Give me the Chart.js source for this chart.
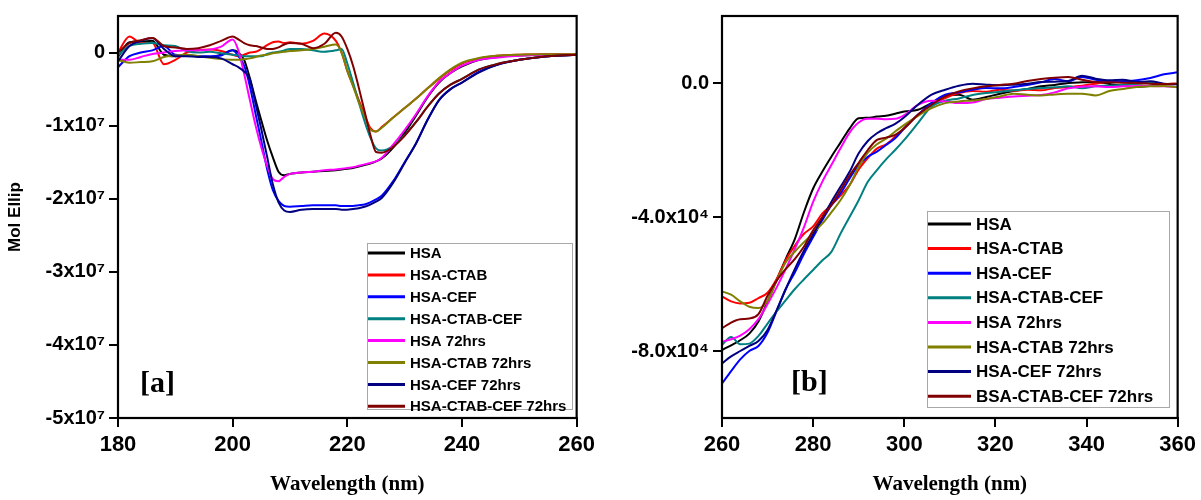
<!DOCTYPE html>
<html>
<head>
<meta charset="utf-8">
<script src="https://cdn.jsdelivr.net/npm/chart.js@4.4.1/dist/chart.umd.min.js"></script>
<style>
  html, body { margin:0; padding:0; background:#fff; }
  #wrap { position:relative; width:1201px; height:500px; }
  canvas { position:absolute; top:0; }
  #cd-a { left:0; }
  #cd-b { left:600px; }
</style>
</head>
<body>
<div id="wrap">
  <canvas id="cd-a" width="600" height="500"></canvas>
  <canvas id="cd-b" width="601" height="500"></canvas>
</div>
<script>
// Legend names and colours
const NAMES_A = ['HSA','HSA-CTAB','HSA-CEF','HSA-CTAB-CEF','HSA 72hrs','HSA-CTAB 72hrs','HSA-CEF 72hrs','HSA-CTAB-CEF 72hrs'];
const NAMES_B = ['HSA','HSA-CTAB','HSA-CEF','HSA-CTAB-CEF','HSA 72hrs','HSA-CTAB 72hrs','HSA-CEF 72hrs','BSA-CTAB-CEF 72hrs'];
const COLORS  = ['#000000','#ff0000','#0000ff','#008080','#ff00ff','#808000','#000080','#800000'];

// [a] far-UV, wavelength (nm) and Mol Ellip in units of 1e6
const WL_A = [180,182,184,186,188,190,192,194,196,198,200,201,202,203,204,205,206,207,208,209,
              210,212,214,216,218,219,220,221,222,223,224,225,226,228,230,232,234,236,238,240,
              243,246,250,255,260];
const HSA_A = [-0.6,1.4,1.5,1.6,-0.3,-0.5,-0.4,-0.5,-0.6,-0.3, 0.3,0.0,-1.0,-3.5,-6.5,-9.3,-12.0,-14.3,-16.3,-16.8,
  -16.6,-16.4,-16.3,-16.2,-16.1,-16.0,-15.9,-15.8,-15.6,-15.4, -15.2,-14.9,-14.5,-13.0,-11.0,-8.6,-6.1,-4.1,-2.8,-1.9,
  -1.0,-0.6,-0.4,-0.3,-0.3];
const HSA_CTAB_A = [0.0,2.2,1.3,1.3,-1.6,-1.0,0.0,0.3,0.4,0.2, -0.3,-0.5,-0.3,0.0,0.1,0.5,1.0,1.4,1.5,1.3,
  1.4,1.2,1.6,2.6,1.6,0.0,-2.5,-4.5,-6.5,-8.5, -10.3,-10.8,-10.2,-8.9,-7.6,-6.3,-4.9,-3.6,-2.4,-1.5,
  -0.8,-0.45,-0.3,-0.25,-0.25];
const HSA_CEF_A = [-2.0,-0.5,0.0,0.3,0.9,-0.3,-0.4,-0.5,-0.5,-0.4, 0.3,-0.5,-1.8,-4.6,-8.4,-12.1,-15.9,-18.8,-20.3,-21.0,
  -21.1,-21.0,-20.9,-20.9,-20.9,-21.0,-21.0,-21.0,-20.9,-20.8, -20.5,-20.1,-19.6,-17.6,-15.0,-12.4,-9.2,-6.5,-5.0,-4.1,
  -2.6,-1.7,-1.0,-0.5,-0.3];
const HSA_CTAB_CEF_A = [-0.4,0.9,1.2,1.3,1.0,0.9,0.2,0.0,0.1,-0.1, -0.3,-0.4,-0.5,-0.5,-0.5,-0.5,-0.2,0.0,0.1,0.3,
  0.5,0.5,0.3,0.1,0.3,0.5,-1.5,-4.1,-6.8,-9.4, -11.6,-13.1,-13.4,-12.8,-11.3,-9.5,-7.4,-5.6,-4.4,-3.6,
  -2.3,-1.6,-1.0,-0.5,-0.3];
const HSA72_A = [-1.0,-1.0,-0.6,-0.2,0.0,0.2,0.3,0.3,0.4,0.8, 1.8,0.3,-2.9,-6.5,-10.0,-13.0,-15.5,-17.3,-17.6,-17.0,
  -16.6,-16.4,-16.3,-16.1,-16.0,-15.9,-15.8,-15.7,-15.5,-15.3, -15.1,-14.9,-14.4,-12.6,-10.6,-8.4,-6.0,-4.0,-2.8,-1.8,
  -1.0,-0.7,-0.45,-0.3,-0.3];
const HSA_CTAB72_A = [-1.0,-1.4,-1.3,-1.2,-0.6,-0.4,-0.3,-0.5,-0.7,-0.9, -1.0,-1.0,-0.9,-0.8,-0.6,-0.4,-0.3,-0.1,0.0,0.1,
  0.2,0.3,0.5,0.8,1.1,0.0,-2.5,-4.6,-6.8,-8.7, -10.5,-10.8,-10.3,-8.9,-7.6,-6.3,-4.9,-3.5,-2.3,-1.4,
  -0.75,-0.45,-0.3,-0.25,-0.25];
const HSA_CEF72_A = [-1.2,0.9,1.6,2.0,0.5,-0.5,-0.5,-0.6,-0.6,-0.8, -1.6,-2.0,-2.6,-3.7,-7.0,-10.5,-14.2,-18.0,-20.5,-21.6,
  -21.8,-21.5,-21.4,-21.4,-21.4,-21.5,-21.5,-21.4,-21.3,-21.1, -20.8,-20.4,-19.9,-17.8,-15.1,-12.4,-9.2,-6.5,-5.0,-4.1,
  -2.7,-1.7,-1.0,-0.5,-0.3];
const HSA_CTAB_CEF72_A = [0.0,1.3,1.7,2.0,0.9,0.7,0.5,0.6,1.0,1.6, 2.2,1.8,1.3,1.0,0.9,0.7,0.5,0.5,0.7,1.1,
  1.3,1.2,0.6,1.2,2.7,2.2,0.5,-1.8,-4.8,-8.0, -11.2,-13.6,-13.7,-12.9,-11.4,-9.5,-7.4,-5.6,-4.4,-3.6,
  -2.3,-1.6,-1.0,-0.5,-0.3];

// [b] near-UV, wavelength (nm) and Mol Ellip in units of 1e3
const WL_B = [260,262,264,266,268,270,272,274,276,278,280,282,284,286,288,290,292,294,296,298,
              300,303,306,309,312,315,318,321,324,327,330,333,336,339,342,345,348,351,354,357,360];
const HSA_B = [-79.7,-78.3,-76.8,-74.8,-71.2,-65.2,-58.8,-52.5,-46.5,-38.5, -31.5,-26.5,-22.0,-17.8,-13.6,-10.5,-10.4,-10.0,-9.8,-9.2,
  -8.5,-8.0,-6.0,-3.8,-3.5,-5.0,-4.2,-3.2,-2.4,-1.8, -1.0,-0.6,0.0,0.2,0.3,-0.3,-0.8,-1.2,-0.8,-0.4, -0.3];
const HSA_CTAB_B = [-63.7,-65.2,-65.8,-65.6,-64.2,-62.6,-58.5,-52.8,-48.5,-45.0, -42.8,-39.0,-36.4,-33.6,-30.5,-25.8,-22.4,-19.6,-18.3,-16.0,
  -13.5,-9.5,-6.5,-4.5,-3.0,-2.4,-2.6,-2.0,-2.3,-2.0, -2.2,-1.5,-1.2,-0.8,-0.2,0.3,0.2,-0.2,0.0,-0.3, -0.2];
const HSA_CEF_B = [-89.7,-86.0,-82.5,-80.0,-78.5,-74.5,-68.0,-61.5,-56.5,-51.0, -46.0,-41.0,-36.5,-33.0,-28.5,-24.5,-22.0,-20.5,-18.5,-16.5,
  -13.5,-9.5,-6.0,-3.5,-2.8,-2.0,-1.5,-1.6,-1.2,-0.6, 0.2,1.2,0.5,1.8,1.0,0.3,0.5,0.8,1.5,2.6, 3.2];
const HSA_CTAB_CEF_B = [-78.2,-75.8,-78.0,-77.8,-75.5,-71.8,-68.2,-64.8,-61.5,-58.6, -55.8,-53.0,-50.4,-45.0,-40.0,-35.0,-29.5,-26.0,-22.8,-20.0,
  -17.0,-12.0,-7.0,-5.3,-4.6,-3.6,-3.0,-2.6,-2.2,-1.8, -1.5,-1.3,-1.0,-1.6,-1.0,-0.8,-0.6,-0.2,0.0,-0.3, -0.3];
const HSA72_B = [-77.2,-76.5,-75.4,-73.5,-70.5,-66.0,-61.0,-55.5,-49.5,-43.0, -35.5,-29.5,-24.5,-19.5,-14.8,-11.8,-10.7,-10.7,-10.8,-10.7,
  -9.6,-6.5,-5.3,-5.5,-6.0,-5.8,-4.8,-4.4,-4.0,-3.8, -3.6,-2.8,-1.6,-1.1,-1.0,-1.2,-1.0,-0.9,-0.9,-1.0, -1.2];
const HSA_CTAB72_B = [-62.2,-63.2,-65.2,-66.8,-67.2,-65.0,-59.0,-53.5,-50.3,-47.5, -44.8,-42.0,-38.6,-35.0,-30.5,-25.0,-20.8,-18.3,-16.6,-14.5,
  -12.5,-9.8,-7.5,-6.0,-5.5,-5.2,-4.8,-4.0,-3.2,-3.5, -3.7,-3.4,-3.2,-3.2,-3.7,-2.4,-1.8,-1.2,-1.0,-0.9, -1.3];
const HSA_CEF72_B = [-83.7,-81.6,-80.0,-78.5,-77.0,-73.7,-67.8,-61.5,-55.5,-50.0, -45.2,-40.3,-35.5,-31.0,-26.5,-21.0,-17.3,-15.0,-13.5,-12.2,
  -10.2,-6.5,-3.5,-2.0,-0.8,-0.2,-0.5,-0.7,-0.5,-0.2, 0.3,0.4,0.6,2.2,1.3,0.8,1.0,0.3,0.5,-0.2, -0.4];
const BSA_CTAB_CEF72_B = [-73.2,-71.5,-70.5,-70.3,-69.0,-63.5,-59.0,-55.5,-52.5,-48.8, -44.0,-40.0,-36.4,-32.0,-27.6,-23.8,-20.0,-17.0,-16.3,-15.5,
  -13.5,-9.5,-6.5,-4.0,-2.5,-1.6,-1.0,-0.6,-0.2,0.6, 1.2,1.6,1.8,1.0,0.3,0.2,0.1,0.0,-0.2,-0.3, -0.2];

// Ticks
const XTICKS_A = [180,200,220,240,260];
const YTICKS_A = [0,-10,-20,-30,-40,-50];
const YLABELS_A = ['0','-1x10\u2077','-2x10\u2077','-3x10\u2077','-4x10\u2077','-5x10\u2077'];
const XTICKS_B = [260,280,300,320,340,360];
const YTICKS_B = [0,-40,-80];
const YLABELS_B = ['0.0','-4.0x10\u2074','-8.0x10\u2074'];

const SANS  = "'Liberation Sans', Arial, sans-serif";
const SERIF = "'Liberation Serif', 'Times New Roman', serif";

// frame, legend box and panel tag
const decor = {
  id:'decor',
  afterDraw(chart, args, o) {
    const {ctx, chartArea:a} = chart;
    ctx.save();
    ctx.strokeStyle = '#000'; ctx.lineWidth = 2.2;
    ctx.strokeRect(a.left, a.top, a.right - a.left, a.bottom - a.top);
    // legend
    const L = o.legend;
    ctx.fillStyle = '#fff';
    ctx.fillRect(L.x, L.y, L.w, L.h);
    ctx.strokeStyle = '#a8a8a8'; ctx.lineWidth = 1;
    ctx.strokeRect(L.x + 0.5, L.y + 0.5, L.w, L.h);
    ctx.font = `bold ${L.size}px ${SANS}`;
    ctx.textBaseline = 'middle';
    chart.data.datasets.forEach((ds, i) => {
      const y = L.y + L.first + i * L.row;
      ctx.strokeStyle = ds.borderColor; ctx.lineWidth = 3;
      ctx.beginPath(); ctx.moveTo(L.x + 1, y); ctx.lineTo(L.x + 1 + L.line, y); ctx.stroke();
      ctx.fillStyle = '#000';
      ctx.fillText(ds.label, L.x + L.line + 6, y + 1);
    });
    // [a] / [b]
    ctx.font = `bold 30px ${SERIF}`;
    ctx.textBaseline = 'alphabetic';
    ctx.fillStyle = '#000';
    ctx.fillText(o.tag.text, o.tag.x, o.tag.y);
    ctx.restore();
  }
};

// later series drawn on top, as in the original plot
function makeSets(wl, series, names) {
  return series.map((s, i) => ({
    label: names[i],
    data: wl.map((w, k) => ({x:w, y:s[k]})),
    borderColor: COLORS[i],
    borderWidth: 2,
    pointRadius: 0,
    cubicInterpolationMode: 'monotone',
    fill: false,
    order: series.length - i
  }));
}

function axes(xr, xt, yr, yt, yl, yTitle, yWidth) {
  return {
    x: {
      type:'linear', min:xr[0], max:xr[1],
      afterBuildTicks: s => { s.ticks = xt.map(v => ({value:v})); },
      afterFit: s => { s.height = 82; },
      grid: { drawOnChartArea:false, drawTicks:true, tickLength:9, color:'#000', lineWidth:2 },
      border: { display:true, color:'#000', width:2 },
      ticks: { color:'#000', padding:5, maxRotation:0, font:{ family:SANS, size:22, weight:'bold' } },
      title: { display:true, text:'Wavelength (nm)', color:'#000', padding:{top:0, bottom:3},
               font:{ family:SERIF, size:21, weight:'bold' } }
    },
    y: {
      type:'linear', min:yr[0], max:yr[1],
      afterBuildTicks: s => { s.ticks = yt.map(v => ({value:v})); },
      afterFit: s => { s.width = yWidth; },
      grid: { drawOnChartArea:false, drawTicks:true, tickLength:9, color:'#000', lineWidth:2 },
      border: { display:true, color:'#000', width:2 },
      ticks: { color:'#000', padding:4, font:{ family:SANS, size:20, weight:'bold' },
               callback: v => { const i = yt.indexOf(v); return i >= 0 ? yl[i] : ''; } },
      title: { display: !!yTitle, text: yTitle || '', color:'#000', padding:{top:5, bottom:0},
               font:{ family:SANS, size:17, weight:'bold' } }
    }
  };
}

new Chart(document.getElementById('cd-a'), {
  type:'line',
  data:{ datasets: makeSets(WL_A,
    [HSA_A, HSA_CTAB_A, HSA_CEF_A, HSA_CTAB_CEF_A, HSA72_A, HSA_CTAB72_A, HSA_CEF72_A, HSA_CTAB_CEF72_A], NAMES_A) },
  options:{
    responsive:false, animation:false, devicePixelRatio:1,
    layout:{ padding:{ top:16, right:22, left:0, bottom:0 } },
    plugins:{
      legend:{ display:false }, tooltip:{ enabled:false },
      decor:{ legend:{ x:367, y:243, w:205, h:166, first:10, row:21.9, line:37, size:15 },
              tag:{ text:'[a]', x:140, y:392 } }
    },
    scales: axes([180,260], XTICKS_A, [-50,5], YTICKS_A, YLABELS_A, 'Mol Ellip', 118)
  },
  plugins:[decor]
});

new Chart(document.getElementById('cd-b'), {
  type:'line',
  data:{ datasets: makeSets(WL_B,
    [HSA_B, HSA_CTAB_B, HSA_CEF_B, HSA_CTAB_CEF_B, HSA72_B, HSA_CTAB72_B, HSA_CEF72_B, BSA_CTAB_CEF72_B], NAMES_B) },
  options:{
    responsive:false, animation:false, devicePixelRatio:1,
    layout:{ padding:{ top:15, right:23, left:0, bottom:0 } },
    plugins:{
      legend:{ display:false }, tooltip:{ enabled:false },
      decor:{ legend:{ x:327, y:211, w:242, h:196, first:13, row:24.6, line:43, size:17 },
              tag:{ text:'[b]', x:191, y:391 } }
    },
    scales: axes([260,360], XTICKS_B, [-100,20], YTICKS_B, YLABELS_B, '', 122)
  },
  plugins:[decor]
});
</script>
</body>
</html>
